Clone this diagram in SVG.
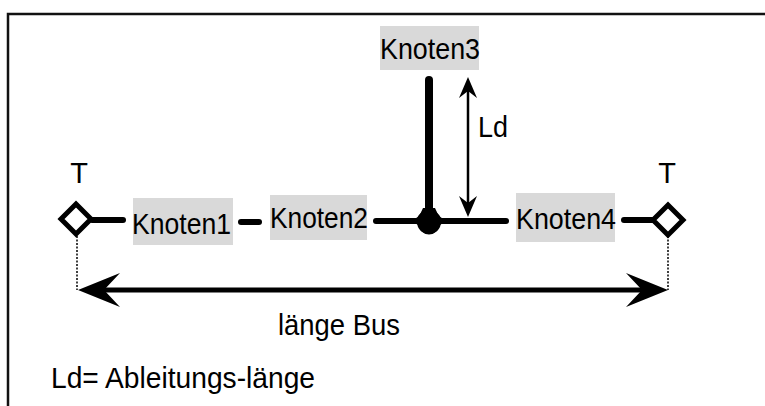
<svg xmlns="http://www.w3.org/2000/svg" width="765" height="406" viewBox="0 0 765 406">
<style>
text{font-family:"Liberation Sans",Arial,sans-serif;font-size:29px;fill:#000}
.box{fill:#d9d9d9}
.bus{stroke:#000;stroke-width:6;stroke-linecap:round;fill:none}
.term{fill:#fff;stroke:#000;stroke-width:5}
.dot{stroke:#000;stroke-width:1.5;stroke-dasharray:2 1.5;fill:none}
.head{fill:#000}
</style>
<rect width="765" height="406" fill="#fff"/>
<path d="M8 406 V14 H765" fill="none" stroke="#111" stroke-width="2.5"/>
<g id="connectors">
<line class="bus" x1="92" y1="220" x2="123" y2="220"/>
<line class="bus" x1="241" y1="222" x2="259" y2="222"/>
<line class="bus" x1="376" y1="221" x2="506" y2="221"/>
<line class="bus" x1="624" y1="220" x2="653" y2="220"/>
<line x1="429" y1="80" x2="429" y2="215" stroke="#000" stroke-width="8" stroke-linecap="round"/>
<path d="M410 221 Q419 219 423 208 L435 208 Q439 219 448 221 Q439 223 437 231 Q429 238 421 231 Q419 223 410 221 Z" class="head"/>
<circle cx="429" cy="222" r="12" class="head"/>
<line class="dot" x1="77" y1="236" x2="77" y2="290"/>
<line class="dot" x1="668" y1="236" x2="668" y2="290"/>
<line x1="100" y1="290" x2="646" y2="290" stroke="#000" stroke-width="5"/>
<path class="head" d="M78 290 L120 273 L104 290 L120 307 Z"/>
<path class="head" d="M668 290 L626 273 L642 290 L626 307 Z"/>
<line x1="468" y1="88" x2="468" y2="206" stroke="#000" stroke-width="2.5"/>
<path class="head" d="M468 77 L477 98 L468 91 L459 98 Z"/>
<path class="head" d="M468 217 L477 196 L468 203 L459 196 Z"/>
</g>
<g id="term-left">
<path class="term" d="M76 204 L91 219 L76 234 L61 219 Z"/>
<text x="79" y="183" text-anchor="middle">T</text>
</g>
<g id="term-right">
<path class="term" d="M668 205 L683 220 L668 235 L653 220 Z"/>
<text x="667" y="183" text-anchor="middle">T</text>
</g>
<g id="knoten1">
<rect class="box" x="133" y="198" width="100" height="47"/>
<text x="132" y="234" textLength="99" lengthAdjust="spacingAndGlyphs">Knoten1</text>
</g>
<g id="knoten2">
<rect class="box" x="270" y="195" width="97" height="45"/>
<text x="270" y="228" textLength="98" lengthAdjust="spacingAndGlyphs">Knoten2</text>
</g>
<g id="knoten3">
<rect class="box" x="380" y="26" width="99" height="44"/>
<text x="380" y="59" textLength="100" lengthAdjust="spacingAndGlyphs">Knoten3</text>
</g>
<g id="knoten4">
<rect class="box" x="516" y="193" width="99" height="49"/>
<text x="516" y="229" textLength="100" lengthAdjust="spacingAndGlyphs">Knoten4</text>
</g>
<text x="478" y="137" textLength="30" lengthAdjust="spacingAndGlyphs">Ld</text>
<text x="278" y="335" textLength="122" lengthAdjust="spacingAndGlyphs">länge Bus</text>
<text x="51" y="388" textLength="264" lengthAdjust="spacingAndGlyphs">Ld= Ableitungs-länge</text>
</svg>
